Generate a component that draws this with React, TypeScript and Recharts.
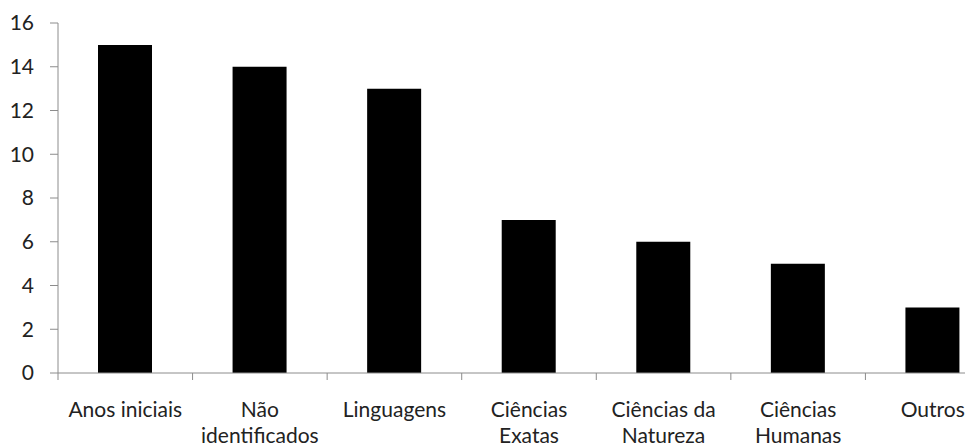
import { BarChart, Bar, XAxis, YAxis } from "recharts";

const categories = [
  "Anos iniciais",
  "Não\nidentificados",
  "Linguagens",
  "Ciências\nExatas",
  "Ciências da\nNatureza",
  "Ciências\nHumanas",
  "Outros",
];
const counts = [15, 14, 13, 7, 6, 5, 3];
const yTicks = [0, 2, 4, 6, 8, 10, 12, 14, 16];

const data = categories.map((name, i) => ({ name, value: counts[i] }));

const AXIS_COLOR = "#8c8c8c";
const FONT = "Lato, 'Open Sans', sans-serif";

function CategoryTick(props: any) {
  const { x, y, payload, index } = props;
  const half = payload && payload.offset ? payload.offset : 67.3;
  const lines = String(payload.value).split("\n");
  return (
    <g>
      <line x1={x - half} y1={y - 8} x2={x - half} y2={y - 1} stroke={AXIS_COLOR} />
      {index === categories.length - 1 && (
        <line x1={x + half} y1={y - 8} x2={x + half} y2={y - 1} stroke={AXIS_COLOR} />
      )}
      <text
        x={x}
        y={y}
        textAnchor="middle"
        fill="#222"
        fontSize={21}
        fontFamily={FONT}
      >
        {lines.map((line, i) => (
          <tspan key={i} x={x} dy={i === 0 ? 36 : 26}>
            {line}
          </tspan>
        ))}
      </text>
    </g>
  );
}

export default function App() {
  return (
    <div
      style={{
        position: "fixed",
        left: 0,
        top: 0,
        width: 965,
        height: 446,
        overflow: "hidden",
        background: "#fff",
      }}
    >
      <BarChart
        width={1012}
        height={446}
        data={data}
        margin={{ top: 23, right: 12, bottom: 0, left: 0 }}
        barSize={54}
      >
        <XAxis
          dataKey="name"
          interval={0}
          height={73}
          stroke={AXIS_COLOR}
          tickLine={false}
          tick={<CategoryTick />}
        />
        <YAxis
          width={58}
          domain={[0, 16]}
          ticks={yTicks}
          stroke={AXIS_COLOR}
          tickSize={8}
          tickMargin={16}
          tick={{ fill: "#222", fontSize: 21, fontFamily: FONT }}
        />
        <Bar dataKey="value" fill="#000" isAnimationActive={false} />
      </BarChart>
    </div>
  );
}
